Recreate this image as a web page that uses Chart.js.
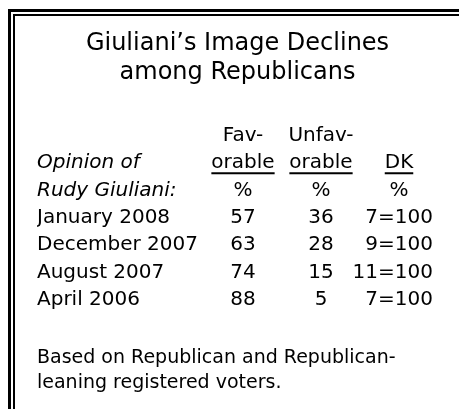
<!DOCTYPE html>
<html><head><meta charset="utf-8">
<script src="https://cdn.jsdelivr.net/npm/chart.js@4/dist/chart.umd.min.js"></script>
<style>html,body{margin:0;padding:0;background:#fff}#wrap{width:459px;height:409px;position:relative}</style>
</head><body><div id="wrap"><canvas id="c" width="459" height="409"></canvas></div>
<script>
const titleLines = ['Giuliani\u2019s Image Declines', 'among Republicans'];
const stubLines = ['Opinion of', 'Rudy Giuliani:'];
const noteLines = ['Based on Republican and Republican-', 'leaning registered voters.'];
const periods = ['January 2008', 'December 2007', 'August 2007', 'April 2006'];
const columns = ['Favorable', 'Unfavorable', 'DK'];
const headerTop = ['Fav-', 'Unfav-', ''];
const headerMid = ['orable', 'orable', 'DK'];
const headerUnit = ['%', '%', '%'];
const favorable = [57, 63, 74, 88];
const unfavorable = [36, 28, 15, 5];
const dontKnow = [7, 9, 11, 7];
const totals = [100, 100, 100, 100];

const FONT = '"DejaVu Sans", sans-serif';
const BODY = 20;

function pts(col, vals) {
  return vals.map((v, j) => ({ x: col, y: periods[j], v: v }));
}

const tablePlugin = {
  id: 'tableText',
  beforeDraw(chart) {
    const ctx = chart.ctx, W = chart.width, H = chart.height;
    ctx.save();
    ctx.fillStyle = '#fff';
    ctx.fillRect(0, 0, W, H);
    ctx.fillStyle = '#000';
    ctx.fillRect(8, 9, 3, H - 9);
    ctx.fillRect(8, 9, W - 8, 3);
    ctx.fillRect(13, 14, 2, H - 14);
    ctx.fillRect(13, 14, W - 13, 2);
    ctx.restore();
  },
  afterDatasetsDraw(chart) {
    const ctx = chart.ctx, xs = chart.scales.x, ys = chart.scales.y;
    ctx.save();
    ctx.fillStyle = '#000';
    ctx.textBaseline = 'middle';
    ctx.font = BODY + 'px ' + FONT;
    ctx.textAlign = 'center';
    columns.forEach((c, i) => {
      const x = xs.getPixelForValue(i);
      ctx.fillText(headerTop[i], x, ys.getPixelForValue(-3));
      const ym = ys.getPixelForValue(-2);
      ctx.fillText(headerMid[i], x, ym);
      const w = ctx.measureText(headerMid[i]).width;
      ctx.fillRect(x - w / 2, ym + 9, w, 2);
      ctx.fillText(headerUnit[i], x, ys.getPixelForValue(-1));
    });
    ctx.textAlign = 'left';
    ctx.font = 'italic ' + BODY + 'px ' + FONT;
    ctx.fillText(stubLines[0], ys.left, ys.getPixelForValue(-2));
    ctx.fillText(stubLines[1], ys.left, ys.getPixelForValue(-1));
    ctx.font = BODY + 'px ' + FONT;
    chart.data.datasets.forEach((ds, d) => {
      const meta = chart.getDatasetMeta(d);
      meta.data.forEach((el, j) => {
        const raw = ds.data[j].v;
        if (d === 2) {
          ctx.textAlign = 'right';
          ctx.fillText(raw + '=' + totals[j], el.x + 34, el.y);
        } else {
          ctx.textAlign = 'center';
          ctx.fillText(String(raw), el.x, el.y);
        }
      });
    });
    ctx.restore();
  }
};

new Chart(document.getElementById('c'), {
  type: 'scatter',
  data: {
    datasets: [
      { label: columns[0], data: pts(columns[0], favorable) },
      { label: columns[1], data: pts(columns[1], unfavorable) },
      { label: columns[2], data: pts(columns[2], dontKnow) }
    ]
  },
  options: {
    responsive: false,
    animation: false,
    devicePixelRatio: 1,
    events: [],
    elements: { point: { radius: 0, hoverRadius: 0 } },
    layout: { padding: { left: 37, right: 21, top: 0, bottom: 0 } },
    scales: {
      x: { type: 'category', labels: columns, offset: true, display: false },
      y: {
        type: 'category', labels: periods, offset: true,
        grid: { display: false, drawTicks: false }, border: { display: false },
        ticks: { autoSkip: false, crossAlign: 'far', padding: 0, color: '#000', font: { family: FONT, size: BODY } },
        afterFit(s) { s.width = 167; }
      }
    },
    plugins: {
      legend: { display: false },
      tooltip: { enabled: false },
      title: {
        display: true, text: titleLines, color: '#000',
        font: { family: FONT, size: 24, weight: 'normal', lineHeight: 1.22 },
        padding: { top: 29, bottom: 116.7 }
      },
      subtitle: {
        display: true, position: 'bottom', align: 'start', text: noteLines, color: '#000',
        font: { family: FONT, size: 19, weight: 'normal', lineHeight: 1.3 },
        padding: { top: 32.4, bottom: 13.6 }
      }
    }
  },
  plugins: [tablePlugin]
});
</script>
</body></html>
